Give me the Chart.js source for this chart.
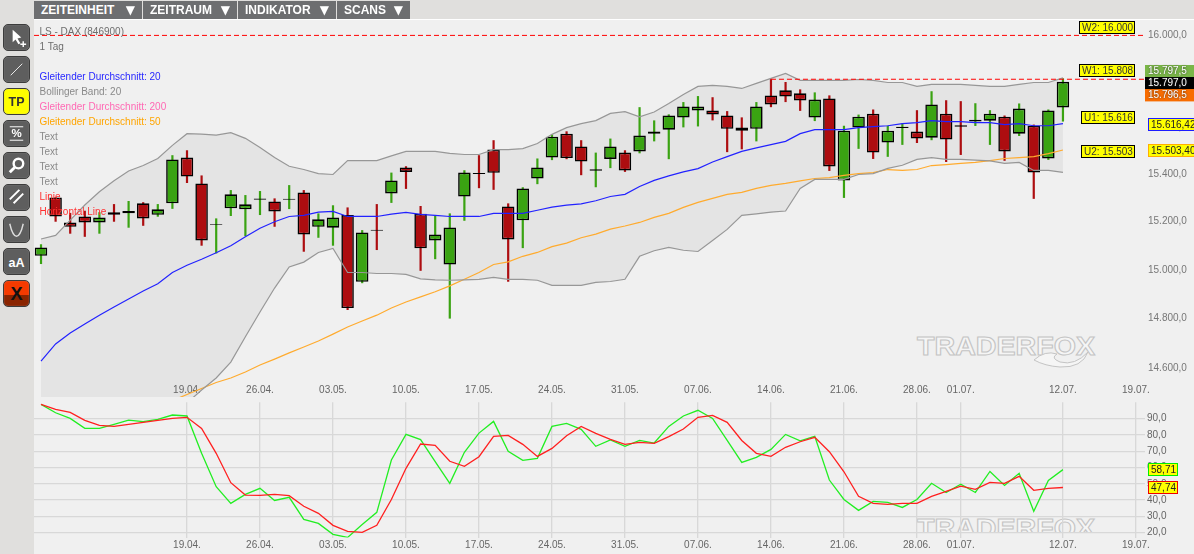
<!DOCTYPE html>
<html lang="de"><head><meta charset="utf-8"><title>LS - DAX</title>
<script src="https://cdn.jsdelivr.net/npm/chart.js@4/dist/chart.umd.js"></script>
<style>
html,body{margin:0;padding:0;width:1194px;height:554px;overflow:hidden;background:#f0f0f0;font-family:"Liberation Sans",Arial,sans-serif}
#top{position:absolute;left:0;top:0;width:1194px;height:19px;background:#e0dfdd;border-bottom:1px solid #fff}
#side{position:absolute;left:0;top:0;width:34px;height:554px;background:#e0dfdd}
.m{position:absolute;top:1px;height:18px;background:#6d6e70;color:#fff;font:bold 12px/18px "Liberation Sans",sans-serif;padding-left:7px;box-sizing:border-box;white-space:nowrap}
.m i{position:absolute;right:7px;top:0;font:normal 12px/18px "DejaVu Sans",sans-serif}
.b{position:absolute;left:3px;width:27px;height:27px;box-sizing:border-box;border:1px solid #3c3c3c;border-radius:5px;background:#5e5e5e;box-shadow:inset 0 0 1px #aaa;color:#fff;text-align:center}
.b svg{position:absolute;left:0;top:0}
canvas{position:absolute;left:0}
.t{position:absolute;left:39.5px;font:10px/12px "Liberation Sans",sans-serif;white-space:nowrap}
.wm{position:absolute;left:910px;width:195px;overflow:hidden}
.wm svg{position:absolute;left:0}
</style></head><body>
<div class="wm" style="top:330px;height:40px"><svg width="195" height="40"><text x="7" y="25" font-family="Liberation Sans" font-weight="bold" font-size="25" textLength="178" lengthAdjust="spacingAndGlyphs" fill="#f5f5f5" stroke="#c4c4c4" stroke-width="1">TRADERFOX</text><path d="M124 30 Q135 20 147 24 Q140 28 150 32 Q165 36 178 22 Q172 38 150 37 Q135 36 124 30Z" fill="#f5f5f5" stroke="#c4c4c4"/></svg></div>
<div class="wm" style="top:512px;height:21px"><svg width="195" height="40"><text x="7" y="25" font-family="Liberation Sans" font-weight="bold" font-size="25" textLength="178" lengthAdjust="spacingAndGlyphs" fill="#f5f5f5" stroke="#c4c4c4" stroke-width="1">TRADERFOX</text></svg></div>
<canvas id="main" width="1194" height="400" style="top:0;width:1194px;height:400px"></canvas>
<canvas id="osc" width="1194" height="154" style="top:400px;width:1194px;height:154px"></canvas>
<div id="top"></div><div id="side"></div>
<div id="ui"></div>
<script>
// ---- tick labels and categories
const dateLabels=["19.04.","26.04.","03.05.","10.05.","17.05.","24.05.","31.05.","07.06.","14.06.","21.06.","28.06.","01.07.","12.07.","19.07."];
const dateIndex=[10,15,20,25,30,35,40,45,50,55,60,63,70,75];
const priceTicks=[16000,15800,15600,15400,15200,15000,14800,14600];
const oscTicks=[90,80,70,60,50,40,30,20];
// ---- candles
const opens=[15058,15302,15197,15222,15197,15240,15235,15277,15229,15277,15471,15361,15187,15256,15252,15292,15285,15292,15323,15179,15175,15228,14951,15166,15319,15429,15233,15122,15022,15306,15405,15505,15264,15206,15382,15471,15573,15518,15415,15465,15492,15497,15573,15590,15642,15673,15673,15651,15599,15594,15738,15760,15747,15642,15725,15374,15599,15659,15535,15597,15582,15556,15659,15609,15625,15629,15646,15573,15607,15467,15686];
const highs=[15106,15303,15237,15246,15240,15274,15287,15282,15274,15481,15502,15395,15214,15333,15312,15329,15298,15354,15333,15235,15269,15260,15165,15274,15407,15434,15266,15225,15235,15417,15481,15545,15277,15345,15467,15570,15583,15545,15492,15552,15502,15687,15630,15656,15709,15735,15730,15670,15643,15709,15809,15796,15764,15751,15738,15607,15655,15677,15607,15616,15674,15756,15717,15713,15704,15674,15651,15703,15612,15677,15812];
const lows=[15024,15200,15150,15137,15150,15200,15175,15183,15221,15254,15363,15100,15068,15224,15140,15228,15179,15253,15075,15133,15100,14835,14945,15082,15279,15338,14996,15044,14800,15204,15341,15334,14951,15090,15358,15460,15464,15396,15345,15426,15410,15489,15540,15464,15600,15604,15630,15494,15506,15540,15687,15709,15671,15627,15414,15300,15508,15465,15474,15525,15533,15545,15452,15482,15606,15525,15457,15563,15296,15461,15625];
const closes=[15093,15222,15179,15197,15218,15229,15245,15214,15252,15463,15390,15122,15191,15315,15273,15298,15243,15296,15147,15210,15218,14843,15155,15162,15374,15410,15089,15147,15176,15407,15401,15406,15126,15340,15429,15560,15469,15454,15421,15518,15416,15565,15582,15651,15690,15690,15655,15594,15586,15690,15699,15733,15716,15720,15433,15586,15646,15492,15586,15603,15552,15699,15548,15603,15633,15659,15497,15681,15407,15673,15797];
// ---- overlays
const bandUpper=[15128,15143,15207,15270,15326,15372,15414,15437,15467,15523,15573,15571,15567,15577,15553,15514,15471,15434,15420,15403,15399,15458,15458,15458,15478,15497,15497,15497,15489,15484,15484,15505,15505,15509,15531,15570,15599,15616,15629,15660,15668,15645,15666,15703,15742,15777,15781,15777,15768,15790,15812,15833,15803,15803,15803,15803,15807,15803,15794,15794,15777,15786,15786,15786,15781,15777,15777,15786,15794,15794,15814];
const bandLower=[14130,14190,14230,14270,14310,14340,14360,14380,14400,14420,14460,14512,14560,14624,14726,14827,14925,15012,15032,15072,15089,14989,14989,14985,14985,14981,14963,14959,14957,14959,14961,14969,14961,14961,14957,14936,14936,14936,14948,14952,14961,15056,15079,15093,15081,15076,15122,15168,15227,15233,15240,15245,15340,15378,15378,15378,15399,15403,15425,15438,15463,15471,15463,15463,15460,15457,15446,15450,15416,15416,15408];
const sma20=[14628,14697,14741,14778,14814,14847,14880,14913,14943,14989,15019,15044,15071,15100,15137,15173,15200,15222,15227,15240,15243,15222,15222,15222,15232,15239,15231,15227,15222,15222,15222,15235,15235,15235,15248,15261,15270,15275,15288,15306,15315,15348,15374,15393,15410,15424,15452,15475,15497,15512,15526,15540,15573,15590,15590,15590,15599,15603,15607,15616,15620,15629,15625,15625,15620,15620,15612,15616,15607,15607,15616];
const sma50=[null,null,null,null,null,null,null,null,null,14470,14494,14518,14542,14560,14584,14612,14636,14661,14685,14709,14737,14766,14790,14814,14843,14868,14889,14910,14934,14961,14989,15022,15033,15056,15072,15096,15111,15133,15148,15169,15182,15197,15218,15235,15260,15281,15298,15315,15323,15340,15353,15361,15372,15382,15386,15395,15403,15407,15420,15416,15420,15437,15441,15446,15450,15458,15467,15471,15475,15488,15503];
const oscFast=[98.7,93.6,90.1,84.0,84.0,86.5,89.1,88.1,89.5,92.2,91.6,68.7,48.2,38.0,43.5,47.2,39.8,41.7,28.2,25.7,19.0,17.1,25.1,32.5,64.6,80.3,77.1,63.6,50.3,69.3,81.1,88.3,69.9,64.4,65.6,85.2,87.1,83.4,73.0,76.9,73.0,76.6,75.0,85.2,91.6,95.1,90.1,76.6,63.1,66.2,71.1,80.3,76.4,79.1,52.3,40.4,33.7,39.2,38.6,35.5,40.4,50.3,44.7,49.7,44.7,57.6,49.0,56.4,33.1,52.1,58.71];
const oscSlow=[98.7,95.7,93.8,88.9,85.8,85.2,86.5,87.7,88.9,90.1,90.8,84.0,68.7,50.7,43.1,42.9,43.5,42.7,36.2,31.9,24.5,20.8,20.2,24.5,40.4,59.5,74.4,73.6,63.8,60.7,66.6,79.1,79.7,74.2,66.8,71.7,79.5,85.2,80.9,77.3,74.2,75.4,74.8,78.9,83.6,90.8,92.0,87.7,76.6,68.7,66.8,72.4,75.8,78.5,69.7,57.4,42.3,38.0,37.4,38.0,38.0,42.3,45.4,48.6,46.6,50.9,50.3,54.6,46.0,47.2,47.74];
// ---- levels and labels
const levelNames=["W2","W1","U1","U2"];
const levelValues=[16000,15808,15616,15503];
const levelTexts=["W2: 16.000","W1: 15.808","U1: 15.616","U2: 15.503"];
const priceNow=[15797.5,15797,15796.5];
const priceNowTexts=["15.797,5","15.797,0","15.796,5"];
const avgValues=[15616.42,15503.40];
const avgTexts=["15.616,42","15.503,40"];
const oscValues=[58.71,47.74];
const oscTexts=["58,71","47,74"];
const legendLines=[["LS - DAX (846900)","#6e6e6e"],["1 Tag","#6e6e6e"],["",""],["Gleitender Durchschnitt: 20","#2828ff"],["Bollinger Band: 20","#8a8a8a"],["Gleitender Durchschnitt: 200","#ff69b4"],["Gleitender Durchschnitt: 50","#ffa500"],["Text","#8a8a8a"],["Text","#8a8a8a"],["Text","#8a8a8a"],["Text","#8a8a8a"],["Linie","#ff3030"],["Horizontal Line","#ff3030"]];
const menuItems=[["ZEITEINHEIT",34,108],["ZEITRAUM",143,94],["INDIKATOR",238,98],["SCANS",337,73]];

// ---- chrome
const ui=document.getElementById('ui');
menuItems.forEach(m=>{const d=document.createElement('div');d.className='m';d.style.left=m[1]+'px';d.style.width=m[2]+'px';d.innerHTML=m[0]+'<i>▼</i>';ui.appendChild(d);});
legendLines.forEach((l,i)=>{if(!l[0])return;const d=document.createElement('div');d.className='t';d.style.top=(26+15*i)+'px';d.style.color=l[1];d.textContent=l[0];ui.appendChild(d);});
const icons=[
 '<path d="M9 5 L9 18 L12 15 L15 20 L17 19 L14 14 L18 13Z" fill="#fff"/><path d="M20 17v6M17 20h6" stroke="#fff" stroke-width="1.5"/>',
 '<path d="M7 19 L19 7" stroke="#eee" stroke-width="1"/>',
 '<text x="13" y="18" text-anchor="middle" font-family="Liberation Sans" font-weight="bold" font-size="13" fill="#333">TP</text>',
 '<path d="M6 6h14M6 20h14" stroke="#fff" stroke-width="1"/><text x="13" y="17" text-anchor="middle" font-family="Liberation Sans" font-weight="bold" font-size="12" fill="#fff">%</text>',
 '<circle cx="15" cy="11" r="5" fill="none" stroke="#fff" stroke-width="2.5"/><path d="M11 15 L6 20" stroke="#fff" stroke-width="3"/>',
 '<path d="M6 15 L16 5M10 19 L20 9" stroke="#fff" stroke-width="2"/>',
 '<path d="M6 7 Q9 20 13 20 Q17 20 20 7" fill="none" stroke="#ddd" stroke-width="1.5"/>',
 '<text x="13" y="19" text-anchor="middle" font-family="Liberation Sans" font-weight="bold" font-size="13" fill="#fff">aA</text>',
 '<text x="13" y="20" text-anchor="middle" font-family="Liberation Sans" font-weight="bold" font-size="19" fill="#111">X</text>'];
icons.forEach((s,i)=>{const d=document.createElement('div');d.className='b';d.style.top=(24+32*i)+'px';
 if(i===2)d.style.background='#ffff00';
 if(i===8)d.style.background='linear-gradient(#f53a00 0 55%,#8a2400 55%)';
 d.innerHTML='<svg width="25" height="25" viewBox="0 0 26 26">'+s+'</svg>';ui.appendChild(d);});

// ---- charts
const GREEN='#3aa312',RED='#ad0d10',FONT='"Liberation Sans",sans-serif';
const toXY=a=>a.map((v,i)=>({x:i,y:v}));
const dateLabel=v=>{const k=dateIndex.indexOf(v);return k<0?'':dateLabels[k];};
const setDateTicks=s=>{s.ticks=dateIndex.map(v=>({value:v}));};
const noPad=s=>{s.paddingLeft=s.paddingRight=s.paddingTop=s.paddingBottom=0;};
const lineDs=(a,color,w)=>({type:'line',data:toXY(a),borderColor:color,borderWidth:w,pointRadius:0,tension:0,fill:false,order:2,spanGaps:false});
const candleUp=i=>closes[i]>=opens[i];
const xMin=-0.48,xMax=75.62,xEdge=78.97;

function box(ctx,cx,cy,w,h,bg,border,text,color,shadow){
  const x=cx,y=Math.round(cy-h/2);
  ctx.save();
  ctx.fillStyle=bg;ctx.fillRect(x,y,w,h);
  if(border){ctx.strokeStyle=border;ctx.lineWidth=1;ctx.strokeRect(x+.5,y+.5,w-1,h-1);}
  ctx.font='10px '+FONT;ctx.textBaseline='middle';ctx.textAlign='left';ctx.fillStyle=color;
  if(shadow){ctx.shadowColor='#333';ctx.shadowBlur=2;}
  ctx.fillText(text,x+3,y+h/2+.5);
  ctx.restore();
}
const mainLabels={id:'mainLabels',
 beforeDatasetsDraw(c){
  const ctx=c.ctx,x=c.scales.x,yy=c.chartArea.bottom-7;
  ctx.save();ctx.font='10px '+FONT;ctx.fillStyle='#666';ctx.textAlign='center';ctx.textBaseline='middle';
  dateIndex.forEach((v,i)=>ctx.fillText(dateLabels[i],x.getPixelForValue(v),yy));
  ctx.restore();
 },
 afterDraw(c){
  const y=c.scales.y,ctx=c.ctx;
  const off=[-8.2,-9.2,-6,1.5],lx=[1079,1079,1081,1081],lw=[56,56,54,54];
  levelValues.forEach((v,i)=>box(ctx,lx[i],y.getPixelForValue(v)+off[i],lw[i],13,'#ffff00','#000',levelTexts[i],'#333'));
  const base=y.getPixelForValue(priceNow[1]);
  [[-10.5,'#7ab648'],[1.5,'#000'],[13.8,'#f86c00']].forEach((p,i)=>box(ctx,1145,base+p[0],49,12.4,p[1],null,priceNowTexts[i],'#fff',true));
  const ac=['#1c1cff','#ffae00'];
  avgValues.forEach((v,i)=>box(ctx,1148,y.getPixelForValue(v)+1,50,13,'#ffff00',ac[i],avgTexts[i],'#222'));
}};
new Chart(document.getElementById('main'),{
  type:'line',
  data:{datasets:[
    {type:'bar',data:lows.map((l,i)=>({x:i,y:[l,highs[i]]})),backgroundColor:c=>candleUp(c.dataIndex)?GREEN:RED,barThickness:2.2,grouped:false,order:4,inflateAmount:0},
    {type:'bar',data:opens.map((o,i)=>({x:i,y:[o,closes[i]]})),backgroundColor:c=>candleUp(c.dataIndex)?GREEN:RED,borderColor:'#000',borderWidth:1.6,borderSkipped:false,barThickness:12.5,grouped:false,order:3,inflateAmount:0},
    lineDs(bandUpper,'#979797',1.2),
    Object.assign(lineDs(bandLower,'#979797',1.2),{fill:'-1',backgroundColor:'#e4e4e4'}),
    lineDs(sma20,'#2222ff',1.2),
    lineDs(sma50,'#ffab2e',1.2),
    {type:'line',data:[{x:xMin,y:levelValues[0]},{x:xMax,y:levelValues[0]}],borderColor:'#ff0000',borderWidth:1,borderDash:[5,3],pointRadius:0,order:1,clip:false},
    {type:'line',data:[{x:50,y:levelValues[1]},{x:xEdge,y:levelValues[1]}],borderColor:'#ff0000',borderWidth:1,borderDash:[5,3],pointRadius:0,order:1,clip:false}
  ]},
  options:{responsive:false,animation:false,devicePixelRatio:1,
    layout:{padding:{left:34,top:20,right:0,bottom:3}},
    plugins:{legend:{display:false},tooltip:{enabled:false},filler:{drawTime:'beforeDatasetsDraw'}},
    scales:{
      x:{type:'linear',min:xMin,max:xMax,offset:false,grid:{display:false,offset:false,drawTicks:false},border:{display:false},
        afterBuildTicks:setDateTicks,afterFit:s=>{s.height=0;noPad(s);},
        ticks:{display:false,autoSkip:false,maxRotation:0,callback:dateLabel}},
      y:{type:'logarithmic',position:'right',min:14484,max:16068,beginAtZero:false,grid:{display:false,drawTicks:false},border:{display:false},
        afterBuildTicks:s=>{s.ticks=priceTicks.map(v=>({value:v}));},afterFit:s=>{s.width=49;noPad(s);},
        ticks:{padding:3,color:'#777',font:{size:10,family:FONT},callback:v=>String(Math.floor(v/1000))+'.'+String(v%1000).padStart(3,'0')+',0'}}
    }},
  plugins:[mainLabels]
});
const oscLabels={id:'oscLabels',afterDraw(c){
  const y=c.scales.y,ctx=c.ctx,col=['#00ee00','#ee0000'];
  oscValues.forEach((v,i)=>box(ctx,1148,y.getPixelForValue(v),30,13,'#ffff00',col[i],oscTexts[i],'#222'));
}};
new Chart(document.getElementById('osc'),{
  type:'line',
  data:{datasets:[
    Object.assign(lineDs(oscSlow,'#ff2020',1.3),{order:1}),
    Object.assign(lineDs(oscFast,'#22ee22',1.3),{order:2})
  ]},
  options:{responsive:false,animation:false,devicePixelRatio:1,
    layout:{padding:{left:34,top:2.3,right:0,bottom:0}},
    plugins:{legend:{display:false},tooltip:{enabled:false}},
    scales:{
      x:{type:'linear',min:xMin,max:xMax,offset:false,grid:{color:'#d8d8d8',lineWidth:1.3,offset:false,drawTicks:false},border:{display:false},
        afterBuildTicks:setDateTicks,afterFit:s=>{s.height=16.4;noPad(s);},
        ticks:{autoSkip:false,maxRotation:0,padding:2,color:'#666',font:{size:10,family:FONT},callback:dateLabel}},
      y:{type:'linear',position:'right',min:17,max:100,grid:{color:'#d8d8d8',lineWidth:1.3,drawTicks:false},border:{display:false},
        afterBuildTicks:s=>{s.ticks=oscTicks.map(v=>({value:v}));},afterFit:s=>{s.width=49;noPad(s);},
        ticks:{padding:2,color:'#666',font:{size:10,family:FONT},callback:v=>v.toFixed(1).replace('.',',')}}
    }},
  plugins:[oscLabels]
});
</script>
</body></html>
